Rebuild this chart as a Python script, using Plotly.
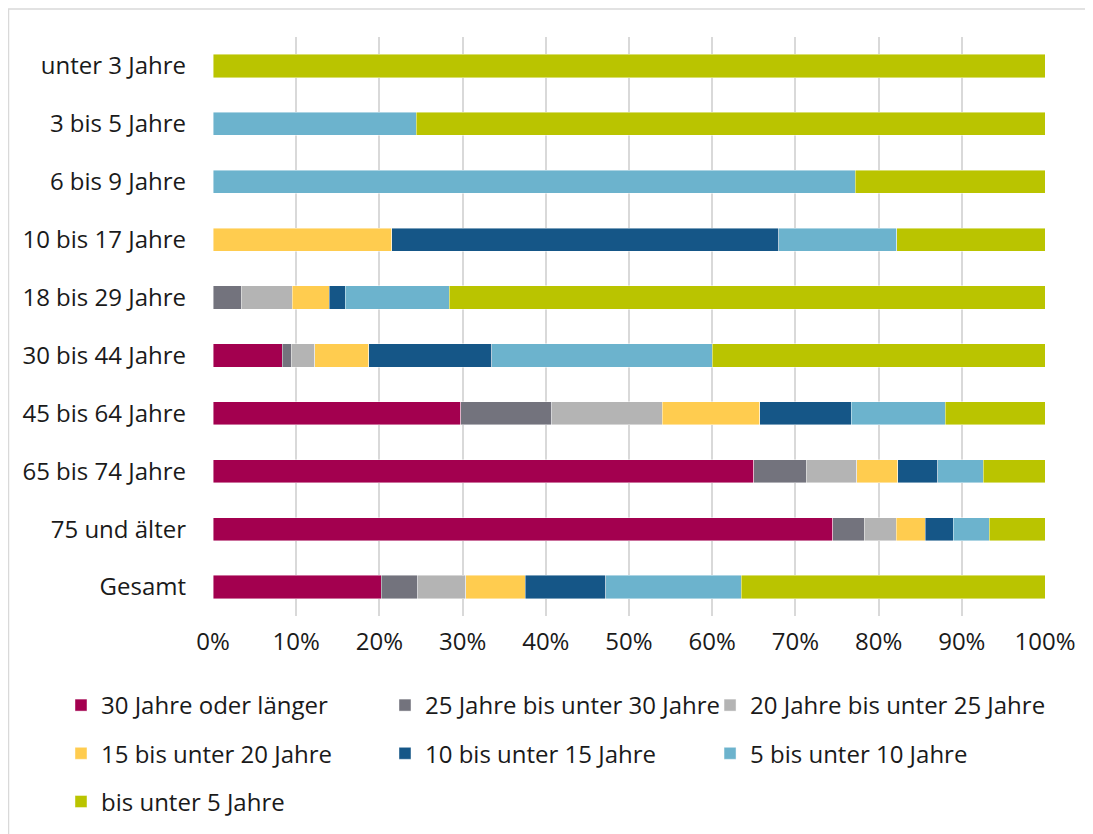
import plotly.graph_objects as go

categories = ["unter 3 Jahre", "3 bis 5 Jahre", "6 bis 9 Jahre", "10 bis 17 Jahre",
              "18 bis 29 Jahre", "30 bis 44 Jahre", "45 bis 64 Jahre",
              "65 bis 74 Jahre", "75 und älter", "Gesamt"]

series_names = ["30 Jahre oder länger", "25 Jahre bis unter 30 Jahre",
                "20 Jahre bis unter 25 Jahre", "15 bis unter 20 Jahre",
                "10 bis unter 15 Jahre", "5 bis unter 10 Jahre", "bis unter 5 Jahre"]

s_30plus = [None, None, None, None, None, 8.3, 29.8, 65.0, 74.5, 20.2]
s_25_30 = [None, None, None, None, 3.4, 1.1, 10.9, 6.3, 3.8, 4.4]
s_20_25 = [None, None, None, None, 6.1, 2.8, 13.3, 6.1, 3.8, 5.8]
s_15_20 = [None, None, None, 21.5, 4.5, 6.5, 11.7, 4.9, 3.5, 7.1]
s_10_15 = [None, None, None, 46.5, 1.9, 14.8, 11.0, 4.8, 3.4, 9.7]
s_5_10 = [None, 24.4, 77.2, 14.2, 12.5, 26.5, 11.3, 5.5, 4.3, 16.3]
s_under5 = [100.0, 75.6, 22.8, 17.8, 71.6, 40.0, 12.0, 7.4, 6.7, 36.5]

tick_vals = [0, 10, 20, 30, 40, 50, 60, 70, 80, 90, 100]
tick_labels = ["0%", "10%", "20%", "30%", "40%", "50%", "60%", "70%", "80%", "90%", "100%"]

colors = ["#A3004F", "#73737D", "#B4B4B4", "#FFCC4F", "#155687", "#6CB3CD", "#BAC400"]
all_series = [s_30plus, s_25_30, s_20_25, s_15_20, s_10_15, s_5_10, s_under5]
# legend laid out in three columns, filled row by row
legend_ids = ["legend", "legend2", "legend3", "legend", "legend2", "legend3", "legend"]

FONT = "Open Sans"
FS = 24
TXT = "#1a1a1a"

fig = go.Figure()
for i, (name, vals, col, lg) in enumerate(zip(series_names, all_series, colors, legend_ids)):
    fig.add_trace(go.Bar(
        y=categories, x=vals, name=name, orientation="h", legend=lg,
        legendgroup=f"g{i}",
        marker=dict(color=col, line=dict(color="rgba(255,255,255,0.55)", width=0.8)),
    ))


def legend_col(xl):
    return dict(
        orientation="v", x=xl, xanchor="left", y=-0.1157, yanchor="top",
        itemwidth=30, traceorder="grouped", tracegroupgap=14,
        font=dict(family=FONT, size=FS, color=TXT),
        bgcolor="rgba(0,0,0,0)",
    )


# the page adds an 8px body margin, so the figure is sized to fill the rest
fig.update_layout(
    width=1085, height=826,
    barmode="stack", bargap=0.6,
    paper_bgcolor="white", plot_bgcolor="white",
    margin=dict(l=205, r=48, t=29, b=218, autoexpand=False),
    font=dict(family=FONT, size=FS, color=TXT),
    showlegend=True,
    legend=legend_col(-0.1827),
    legend2=legend_col(0.2067),
    legend3=legend_col(0.5974),
    xaxis=dict(
        range=[0, 100], tickmode="array", tickvals=tick_vals, ticktext=tick_labels,
        showgrid=True, gridcolor="#D9D9D9", gridwidth=1.5,
        zeroline=False, showline=False, ticks="",
        ticklabelstandoff=9, automargin=False,
    ),
    yaxis=dict(
        categoryorder="array", categoryarray=categories,
        autorange="reversed", showgrid=False, zeroline=False,
        showline=False, ticks="", ticklabelstandoff=26, automargin=False,
    ),
    shapes=[dict(
        type="rect", xref="paper", yref="paper",
        x0=-0.2458, x1=1.0517, y0=-0.40, y1=1.0484,
        line=dict(color="#D9D9D9", width=1.5), fillcolor="rgba(0,0,0,0)",
        layer="below",
    )],
)

fig.write_html("out.html")
